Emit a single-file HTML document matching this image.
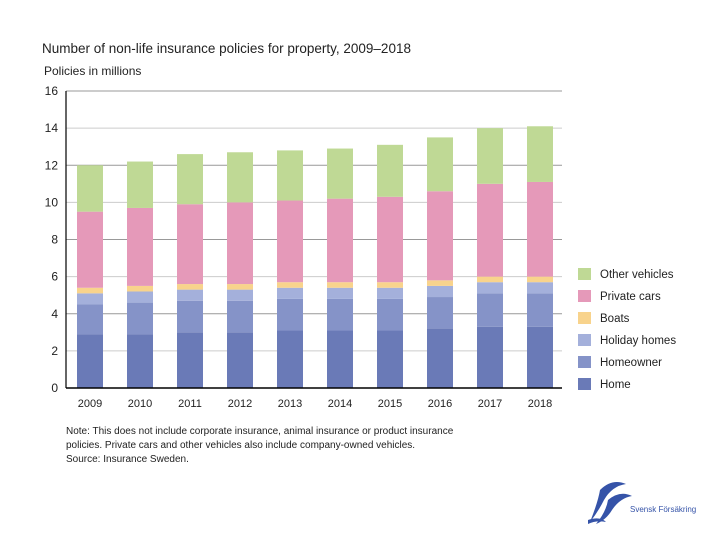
<!DOCTYPE html>
<html><head><meta charset="utf-8"><style>
body{margin:0;background:#fff;width:720px;height:540px;overflow:hidden;font-family:"Liberation Sans",sans-serif;}
svg text{font-family:"Liberation Sans",sans-serif;}
</style></head><body>
<svg id="chart" width="720" height="540">
<text x="42" y="53" font-size="13.5" fill="#222">Number of non-life insurance policies for property, 2009–2018</text>
<text x="44" y="75" font-size="12" fill="#222">Policies in millions</text>
<g id="grid"></g><g id="bars"></g><g id="axes"></g><g id="legend"></g>
<text font-size="10" fill="#222">
<tspan x="66" y="434">Note: This does not include corporate insurance, animal insurance or product insurance</tspan>
<tspan x="66" y="448">policies. Private cars and other vehicles also include company-owned vehicles.</tspan>
<tspan x="66" y="462">Source: Insurance Sweden.</tspan></text>
<g>
<path d="M600 490 Q612 478 626 484 Q612 486 604 500 Q598 512 590 522 Q598 502 600 490Z" fill="#3553a8"/>
<path d="M608 500 Q620 490 632 496 Q620 498 612 510 Q606 520 596 524 Q606 512 608 500Z" fill="#3553a8"/>
<path d="M588 520 Q600 516 606 522 Q596 520 588 524Z" fill="#3553a8"/>
<text x="630" y="512" font-size="8" fill="#3553a8">Svensk Försäkring</text>
</g>
</svg>
<script>
const years=["2009","2010","2011","2012","2013","2014","2015","2016","2017","2018"];
const home=[2.9,2.9,3.0,3.0,3.1,3.1,3.1,3.2,3.3,3.3];
const homeowner=[1.6,1.7,1.7,1.7,1.7,1.7,1.7,1.7,1.8,1.8];
const holidayHomes=[0.6,0.6,0.6,0.6,0.6,0.6,0.6,0.6,0.6,0.6];
const boats=[0.3,0.3,0.3,0.3,0.3,0.3,0.3,0.3,0.3,0.3];
const privateCars=[4.1,4.2,4.3,4.4,4.4,4.5,4.6,4.8,5.0,5.1];
const otherVehicles=[2.5,2.5,2.7,2.7,2.7,2.7,2.8,2.9,3.0,3.0];
const yTicks=[0,2,4,6,8,10,12,14,16];
const seriesNames=["Home","Homeowner","Holiday homes","Boats","Private cars","Other vehicles"];
const seriesData=[home,homeowner,holidayHomes,boats,privateCars,otherVehicles];
const colors=["#6a7ab7","#8593c8","#a4b0db","#f8d38c","#e599b9","#bfd995"];
const NS="http://www.w3.org/2000/svg";
const y0=388,y1=91,xL=66,xR=562;
function yS(v){return y0-(v/16)*(y0-y1);}
function xS(i){return 90+i*50;}
function mk(t,a,p){const e=document.createElementNS(NS,t);for(const k in a)e.setAttribute(k,a[k]);p.appendChild(e);return e;}
const grid=document.getElementById('grid'),bars=document.getElementById('bars'),axes=document.getElementById('axes'),legend=document.getElementById('legend');
yTicks.forEach(v=>{
  if(v>0){const l=mk('line',{x1:xL,x2:xR,y1:yS(v),y2:yS(v),stroke:(v%4===0?'#999':'#ccc'),'stroke-width':1},grid);
  
  }
  const t=mk('text',{x:58,y:yS(v)+4,'font-size':12,'text-anchor':'end',fill:'#222'},axes);t.textContent=v;
  
  
});
years.forEach((yr,i)=>{
  let c=0;
  seriesData.forEach((s,j)=>{
    const r=mk('rect',{x:xS(i)-13,width:26,y:yS(c+s[i]),height:yS(c)-yS(c+s[i]),fill:colors[j]},bars);
    
    
    c+=s[i];
  });
  const t=mk('text',{x:xS(i),y:407,'font-size':11,'text-anchor':'middle',fill:'#222'},axes);t.textContent=yr;
  
  
});
const ax=mk('line',{x1:xL,x2:xL,y1:y1,y2:y0,stroke:'#000','stroke-width':1.2},axes);


const bx=mk('line',{x1:xL,x2:xR,y1:y0,y2:y0,stroke:'#000','stroke-width':1.5},axes);


for(let j=5;j>=0;j--){
  const k=5-j,yy=268+k*22;
  const g=mk('g',{},legend);
  
  
  mk('rect',{x:578,y:yy,width:13,height:12,fill:colors[j]},g);
  const t=mk('text',{x:600,y:yy+10,'font-size':11.5,fill:'#222'},g);t.textContent=seriesNames[j];
}
</script>
</body></html>
